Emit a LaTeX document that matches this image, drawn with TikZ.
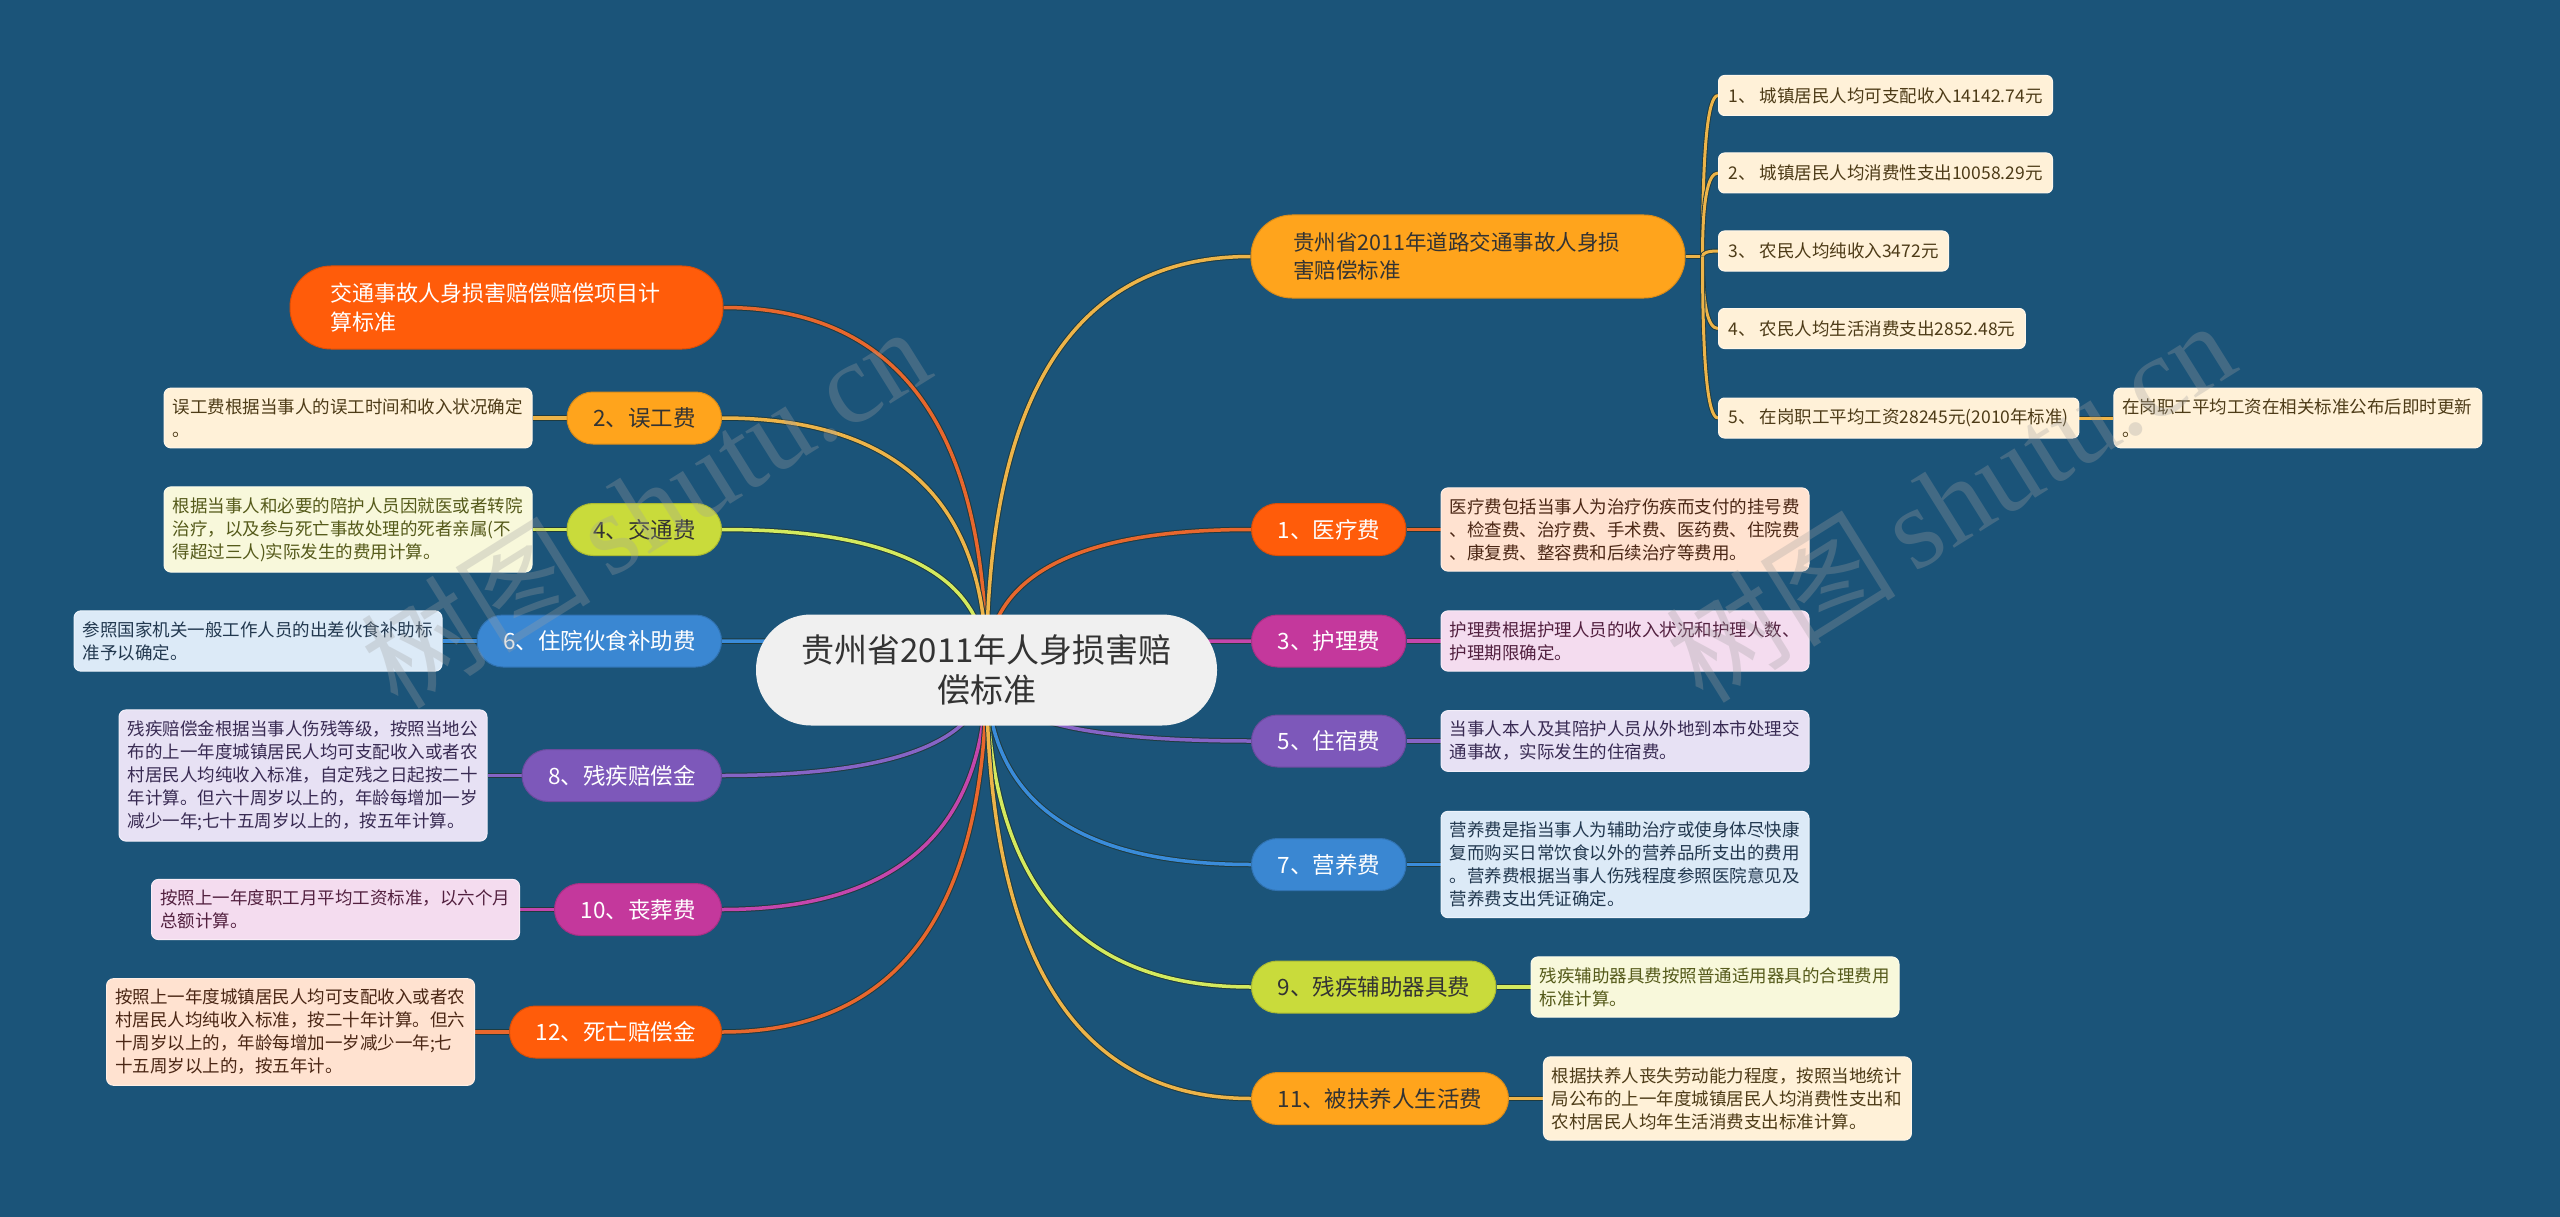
\documentclass[tikz,border=0pt]{standalone}
\usepackage{fontspec}
\setmainfont{Noto Sans CJK SC}
\newfontfamily\wmfont{Liberation Serif}
\usetikzlibrary{calc}
\definecolor{bgc}{HTML}{1B5479}
\definecolor{rootc}{HTML}{F0F0F0}
\definecolor{darkt}{HTML}{333333}
\definecolor{edgeo}{HTML}{1F3B3F}
\definecolor{redo}{HTML}{FF5C0A}
\definecolor{redoL}{HTML}{E8672D}
\definecolor{redoF}{HTML}{FFE2D0}
\definecolor{redoT}{HTML}{4A2614}
\definecolor{org}{HTML}{FFA41C}
\definecolor{orgL}{HTML}{EDB449}
\definecolor{orgF}{HTML}{FFF1D8}
\definecolor{orgT}{HTML}{4D3B17}
\definecolor{ylg}{HTML}{C9DB3B}
\definecolor{ylgL}{HTML}{D4EA5E}
\definecolor{ylgF}{HTML}{F8F8DB}
\definecolor{ylgT}{HTML}{555A1A}
\definecolor{blu}{HTML}{3A87D2}
\definecolor{bluL}{HTML}{3A8CDA}
\definecolor{bluF}{HTML}{DCEAF7}
\definecolor{bluT}{HTML}{22384F}
\definecolor{pur}{HTML}{7D58BA}
\definecolor{purL}{HTML}{8664C6}
\definecolor{purF}{HTML}{E7E1F4}
\definecolor{purT}{HTML}{382A52}
\definecolor{mag}{HTML}{C4389C}
\definecolor{magL}{HTML}{C446AD}
\definecolor{magF}{HTML}{F4DCEF}
\definecolor{magT}{HTML}{52203F}
\definecolor{wmc}{HTML}{A0A0A0}
\pgfdeclarelayer{back}
\pgfdeclarelayer{edges}
\pgfsetlayers{back,edges,main}
\newcommand\qlink[3]{\draw[link=#1] (#2) .. controls ($(#2)!2/3!(#2 |- #3)$) and ($(#3)!2/3!(#2 |- #3)$) .. (#3);}
\newcommand\slink[2]{\draw[sublink] (#1) .. controls ($(#1)!2/3!(#1 |- #2)$) and ($(#2)!2/3!(#1 |- #2)$) .. (#2);}
\begin{document}
\begin{tikzpicture}[x=1pt,y=-1pt,
  link/.style={draw=#1, line width=3.5pt, preaction={draw=edgeo, line width=5.5pt}},
  sublink/.style={draw=orgL, line width=3pt, preaction={draw=edgeo, line width=4.8pt}},
  pill/.style={rounded corners=26pt, minimum height=52pt, inner xsep=26pt, inner ysep=0pt,
    font=\fontsize{22.5}{28}\selectfont, fill=#1, draw=#1!85!black, line width=1pt},
  pillw/.style={pill=#1, text=white},
  pilld/.style={pill=#1, text=darkt},
  det/.style={fill=#1F, draw=white!45!#1F, line width=1pt, text=#1T, rounded corners=7pt,
    text width=351pt, align=left, inner xsep=8.5pt, inner ysep=10.5pt,
    font=\fontsize{17.5}{23}\selectfont},
  sub/.style={fill=orgF, draw=white!45!orgF, line width=1pt, text=orgT, rounded corners=6pt,
    minimum height=40pt, inner xsep=10pt, inner ysep=0pt, anchor=west,
    font=\fontsize{17.5}{22}\selectfont},
  rootn/.style={fill=rootc, rounded corners=55pt, minimum width=461pt, minimum height=111pt,
    align=center, text=darkt, font=\fontsize{33}{40}\selectfont},
  wm/.style={rotate=32, text=wmc, opacity=0.3, font=\fontsize{115}{115}\selectfont}]

\begin{pgfonlayer}{back}
\fill[bgc] (0,0) rectangle (2560,1217);
\end{pgfonlayer}
\useasboundingbox (0,0) rectangle (2560,1217);

% root
\node[rootn] (root) at (986.5,670) {贵州省2011年人身损害赔\\偿标准};

% left side
\node[pillw=redo, rounded corners=41pt, minimum width=433pt, minimum height=83pt,
  text width=352pt, align=left, inner xsep=20pt, font=\fontsize{22}{29}\selectfont]
  (A) at (506.5,307.5) {交通事故人身损害赔偿赔偿项目计\\算标准};

\node[pilld=org, anchor=east] (B) at (722,418) {2、误工费};
\node[det=org, anchor=east] (Bd) at ($(B.west)+(-34,0)$) {误工费根据当事人的误工时间和收入状况确定\\。};

\node[pilld=ylg, anchor=east] (C) at (722,529.5) {4、交通费};
\node[det=ylg, anchor=east] (Cd) at ($(C.west)+(-34,0)$) {根据当事人和必要的陪护人员因就医或者转院\\治疗，以及参与死亡事故处理的死者亲属(不\\得超过三人)实际发生的费用计算。};

\node[pillw=blu, anchor=east] (D) at (722,641) {6、住院伙食补助费};
\node[det=blu, anchor=east] (Dd) at ($(D.west)+(-34,0)$) {参照国家机关一般工作人员的出差伙食补助标\\准予以确定。};

\node[pillw=pur, anchor=east] (E) at (722,775.5) {8、残疾赔偿金};
\node[det=pur, anchor=east] (Ed) at ($(E.west)+(-34,0)$) {残疾赔偿金根据当事人伤残等级，按照当地公\\布的上一年度城镇居民人均可支配收入或者农\\村居民人均纯收入标准，自定残之日起按二十\\年计算。但六十周岁以上的，年龄每增加一岁\\减少一年;七十五周岁以上的，按五年计算。};

\node[pillw=mag, anchor=east] (F) at (722,909.5) {10、丧葬费};
\node[det=mag, anchor=east] (Fd) at ($(F.west)+(-34,0)$) {按照上一年度职工月平均工资标准，以六个月\\总额计算。};

\node[pillw=redo, anchor=east] (G) at (722,1032) {12、死亡赔偿金};
\node[det=redo, anchor=east] (Gd) at ($(G.west)+(-34,0)$) {按照上一年度城镇居民人均可支配收入或者农\\村居民人均纯收入标准，按二十年计算。但六\\十周岁以上的，年龄每增加一岁减少一年;七\\十五周岁以上的，按五年计。};

% right side
\node[pilld=org, rounded corners=41pt, minimum width=434pt, minimum height=83pt,
  text width=350pt, align=left, inner xsep=20pt, font=\fontsize{21.5}{28}\selectfont]
  (H) at (1468,256.5) {贵州省2011年道路交通事故人身损\\害赔偿标准};

\node[sub] (H1) at (1718,95.5) {1、 城镇居民人均可支配收入14142.74元};
\node[sub] (H2) at (1718,173) {2、 城镇居民人均消费性支出10058.29元};
\node[sub] (H3) at (1718,251) {3、 农民人均纯收入3472元};
\node[sub] (H4) at (1718,328.5) {4、 农民人均生活消费支出2852.48元};
\node[sub] (H5) at (1718,418) {5、 在岗职工平均工资28245元(2010年标准)};
\node[det=org, anchor=west] (H5d) at ($(H5.east)+(34,0)$) {在岗职工平均工资在相关标准公布后即时更新\\。};

\node[pillw=redo, anchor=west] (I1) at (1251,529.5) {1、医疗费};
\node[det=redo, anchor=west] (I1d) at ($(I1.east)+(34,0)$) {医疗费包括当事人为治疗伤疾而支付的挂号费\\、检查费、治疗费、手术费、医药费、住院费\\、康复费、整容费和后续治疗等费用。};

\node[pillw=mag, anchor=west] (I3) at (1251,641) {3、护理费};
\node[det=mag, anchor=west] (I3d) at ($(I3.east)+(34,0)$) {护理费根据护理人员的收入状况和护理人数、\\护理期限确定。};

\node[pillw=pur, anchor=west] (I5) at (1251,741) {5、住宿费};
\node[det=pur, anchor=west] (I5d) at ($(I5.east)+(34,0)$) {当事人本人及其陪护人员从外地到本市处理交\\通事故，实际发生的住宿费。};

\node[pillw=blu, anchor=west] (I7) at (1251,864.5) {7、营养费};
\node[det=blu, anchor=west] (I7d) at ($(I7.east)+(34,0)$) {营养费是指当事人为辅助治疗或使身体尽快康\\复而购买日常饮食以外的营养品所支出的费用\\。营养费根据当事人伤残程度参照医院意见及\\营养费支出凭证确定。};

\node[pilld=ylg, anchor=west] (I9) at (1251,987) {9、残疾辅助器具费};
\node[det=ylg, anchor=west] (I9d) at ($(I9.east)+(34,0)$) {残疾辅助器具费按照普通适用器具的合理费用\\标准计算。};

\node[pilld=org, anchor=west] (I11) at (1251,1098.5) {11、被扶养人生活费};
\node[det=org, anchor=west] (I11d) at ($(I11.east)+(34,0)$) {根据扶养人丧失劳动能力程度，按照当地统计\\局公布的上一年度城镇居民人均消费性支出和\\农村居民人均年生活消费支出标准计算。};

% connectors
\begin{pgfonlayer}{edges}
\qlink{redoL}{root.center}{A.east}
\qlink{orgL}{root.center}{B.east}
\qlink{ylgL}{root.center}{C.east}
\qlink{bluL}{root.center}{D.east}
\qlink{purL}{root.center}{E.east}
\qlink{magL}{root.center}{F.east}
\qlink{redoL}{root.center}{G.east}
\qlink{orgL}{root.center}{H.west}
\qlink{redoL}{root.center}{I1.west}
\qlink{magL}{root.center}{I3.west}
\qlink{purL}{root.center}{I5.west}
\qlink{bluL}{root.center}{I7.west}
\qlink{ylgL}{root.center}{I9.west}
\qlink{orgL}{root.center}{I11.west}
\draw[link=orgL] (B.west) -- (Bd.east);
\draw[link=ylgL] (C.west) -- (Cd.east);
\draw[link=bluL] (D.west) -- (Dd.east);
\draw[link=purL] (E.west) -- (Ed.east);
\draw[link=magL] (F.west) -- (Fd.east);
\draw[link=redoL] (G.west) -- (Gd.east);
\draw[link=redoL] (I1.east) -- (I1d.west);
\draw[link=magL] (I3.east) -- (I3d.west);
\draw[link=purL] (I5.east) -- (I5d.west);
\draw[link=bluL] (I7.east) -- (I7d.west);
\draw[link=ylgL] (I9.east) -- (I9d.west);
\draw[link=orgL] (I11.east) -- (I11d.west);
\coordinate (sp) at ($(H.east)+(17,0)$);
\draw[sublink] (H.east) -- (sp);
\slink{sp}{H1.west}
\slink{sp}{H2.west}
\slink{sp}{H3.west}
\slink{sp}{H4.west}
\slink{sp}{H5.west}
\draw[sublink] (H5.east) -- (H5d.west);
\end{pgfonlayer}

% watermark
\node[wm] (wm1) at (645,506) {树图\,{\wmfont shutu.cn}};
\node[wm] (wm2) at (1950,500) {树图\,{\wmfont shutu.cn}};
\end{tikzpicture}
\end{document}
